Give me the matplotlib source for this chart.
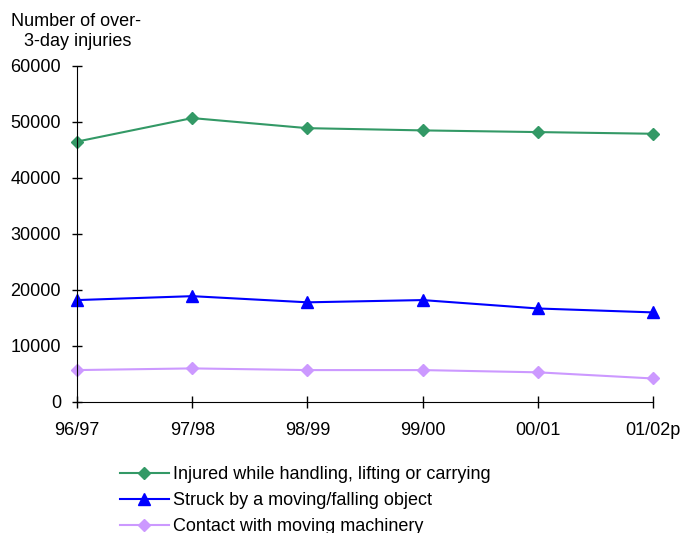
import matplotlib
matplotlib.use("Agg")
import matplotlib.pyplot as plt

plt.rcParams['font.family'] = ['Liberation Sans', 'DejaVu Sans']

years = ['96/97', '97/98', '98/99', '99/00', '00/01', '01/02p']
handling = [46500, 50700, 48900, 48500, 48200, 47900]
struck = [18200, 18900, 17800, 18200, 16700, 16000]
machinery = [5700, 6000, 5700, 5700, 5300, 4200]

fig = plt.figure(figsize=(6.82, 5.33), dpi=100)
ax = fig.add_axes([77 / 682, 1 - 402 / 533, (653 - 77) / 682, (402 - 66) / 533])

x = range(len(years))
ax.plot(x, handling, color='#339966', marker='D', markersize=6, linewidth=1.5,
        clip_on=False, label='Injured while handling, lifting or carrying')
ax.plot(x, struck, color='#0000FF', marker='^', markersize=8, linewidth=1.5,
        clip_on=False, label='Struck by a moving/falling object')
ax.plot(x, machinery, color='#CC99FF', marker='D', markersize=6, linewidth=1.5,
        clip_on=False, label='Contact with moving machinery')

ax.set_xlim(0, 5)
ax.set_ylim(0, 60000)
ax.set_yticks(range(0, 60001, 10000))
ax.set_xticks(list(x))
ax.set_xticklabels(years)
for side in ['top', 'right']:
    ax.spines[side].set_visible(False)
ax.tick_params(axis='both', direction='inout', width=1, labelsize=13)
ax.tick_params(axis='y', length=7, pad=8)
ax.tick_params(axis='x', length=9, pad=10)

fig.text(11 / 682, 1 - 21 / 533, 'Number of over-', fontsize=13, va='center', ha='left')
fig.text(24 / 682, 1 - 41 / 533, '3-day injuries', fontsize=13, va='center', ha='left')

ax.legend(loc='upper left', bbox_to_anchor=(120 / 682, 1 - 466 / 533),
          bbox_transform=fig.transFigure, frameon=False, fontsize=13,
          handlelength=2.7, handletextpad=0.22, labelspacing=0.5,
          borderaxespad=0, borderpad=0)

fig.savefig('out.png', dpi=100)
